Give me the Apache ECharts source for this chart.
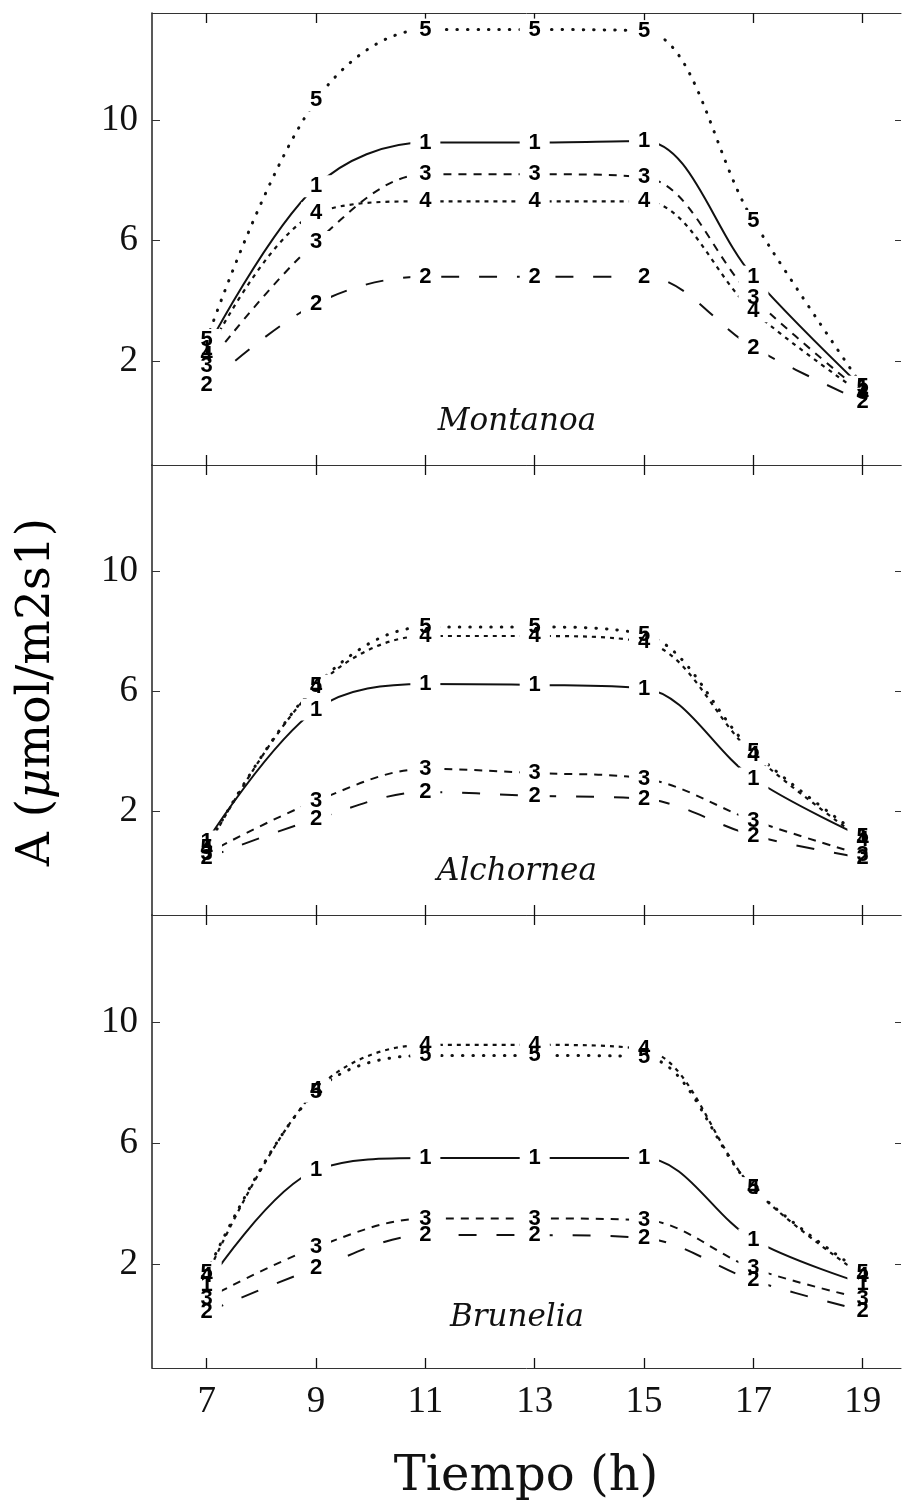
<!DOCTYPE html>
<html>
<head>
<meta charset="utf-8">
<script src="https://cdn.jsdelivr.net/npm/echarts@6/dist/echarts.min.js"></script>
<style>
  html, body { margin: 0; padding: 0; background: #fff; }
  #chart { width: 904px; height: 1507px; }
</style>
</head>
<body>
<div id="chart"></div>
<script>
// Sampling hours and axis ticks
const hours = [7, 9, 11, 13, 15, 17, 19];
const hourTicks = [7, 9, 11, 13, 15, 17, 19];
const rateTicks = [2, 6, 10];
const curveIds = ['1', '2', '3', '4', '5'];
const panelNames = ['Montanoa', 'Alchornea', 'Brunelia'];

// Net assimilation A (µmol/m2s1), Montanoa
const montanoa1 = [2.4, 7.8, 9.25, 9.25, 9.3, 4.8, 1.1];
const montanoa2 = [1.2, 3.9, 4.8, 4.8, 4.8, 2.45, 0.65];
const montanoa3 = [1.85, 5.95, 8.2, 8.2, 8.1, 4.1, 0.95];
const montanoa4 = [2.2, 6.9, 7.3, 7.3, 7.3, 3.65, 0.9];
const montanoa5 = [2.7, 10.65, 13.0, 13.0, 12.95, 6.65, 1.15];

// Alchornea
const alchornea1 = [1.0, 5.4, 6.25, 6.22, 6.1, 3.1, 1.15];
const alchornea2 = [0.45, 1.75, 2.65, 2.52, 2.42, 1.2, 0.45];
const alchornea3 = [0.6, 2.35, 3.42, 3.28, 3.1, 1.7, 0.55];
const alchornea4 = [0.75, 6.15, 7.85, 7.85, 7.65, 3.9, 1.05];
const alchornea5 = [0.8, 6.2, 8.15, 8.15, 7.9, 4.0, 1.15];

// Brunelia
const brunelia1 = [1.3, 5.1, 5.5, 5.5, 5.5, 2.8, 1.35];
const brunelia2 = [0.4, 1.85, 2.95, 2.95, 2.85, 1.45, 0.45];
const brunelia3 = [0.85, 2.55, 3.5, 3.5, 3.45, 1.85, 0.85];
const brunelia4 = [1.6, 7.75, 9.25, 9.25, 9.1, 4.5, 1.6];
const brunelia5 = [1.7, 7.7, 8.9, 8.9, 8.85, 4.5, 1.7];

const panels = [
  [montanoa1, montanoa2, montanoa3, montanoa4, montanoa5],
  [alchornea1, alchornea2, alchornea3, alchornea4, alchornea5],
  [brunelia1, brunelia2, brunelia3, brunelia4, brunelia5]
];

// Stroke of each numbered curve
const curveStyles = [
  { width: 2, type: 'solid', cap: 'butt' },
  { width: 2, type: [18, 20], cap: 'butt' },
  { width: 2, type: [8, 7], cap: 'butt' },
  { width: 2.2, type: [4, 5], cap: 'butt' },
  { width: 3, type: [0.5, 10], cap: 'round' }
];

const gridTops = [13, 465, 915];
const gridHeights = [452, 450, 453];
const nameY = [422, 872, 1318];
const ink = '#111';
const serif = 'Liberation Serif';

const grids = [], xAxes = [], yAxes = [], series = [];

panels.forEach((curves, p) => {
  grids.push({ left: 152, width: 749, top: gridTops[p], height: gridHeights[p] });

  ['bottom', 'top'].forEach(pos => {
    xAxes.push({
      type: 'value', gridIndex: p, position: pos, min: 6, max: 19.7,
      axisLine: { show: true, onZero: false, lineStyle: { color: '#333', width: 1 } },
      axisTick: { show: true, inside: true, length: 10, customValues: hourTicks,
                  lineStyle: { color: ink, width: 1.3 } },
      axisLabel: { show: pos === 'bottom' && p === 2, customValues: hourTicks, margin: 16,
                   fontFamily: serif, fontSize: 37, color: ink },
      splitLine: { show: false }
    });
  });

  yAxes.push({
    type: 'value', gridIndex: p, position: 'left', min: -1.45, max: 13.55,
    axisLine: { show: true, onZero: false, lineStyle: { color: '#222', width: 1.5 } },
    axisTick: { show: true, inside: true, length: 8, customValues: rateTicks,
                lineStyle: { color: '#333', width: 1 } },
    axisLabel: { show: true, customValues: rateTicks, margin: 14,
                 fontFamily: serif, fontSize: 37, color: ink },
    splitLine: { show: false }
  });
  yAxes.push({
    type: 'value', gridIndex: p, position: 'right', min: -1.45, max: 13.55,
    axisLine: { show: false },
    axisTick: { show: true, inside: true, length: 6, customValues: rateTicks,
                lineStyle: { color: '#333', width: 1 } },
    axisLabel: { show: false },
    splitLine: { show: false }
  });

  curves.forEach((vals, k) => {
    series.push({
      type: 'line',
      xAxisIndex: p * 2,
      yAxisIndex: p * 2,
      data: hours.map((h, j) => [h, vals[j]]),
      smooth: 0.35,
      symbol: 'rect',
      symbolSize: [30, 22],
      itemStyle: { color: '#fff', borderWidth: 0 },
      lineStyle: Object.assign({ color: ink }, curveStyles[k]),
      label: {
        show: true, position: 'inside', formatter: curveIds[k],
        fontFamily: 'Liberation Sans', fontWeight: 'bold', fontSize: 22, color: '#000'
      },
      emphasis: { disabled: true },
      silent: true,
      animation: false
    });
  });
});

const graphics = panelNames.map((name, p) => ({
  type: 'text', x: 517, y: nameY[p],
  style: { text: name, font: 'italic 31px "DejaVu Serif"', fill: ink,
           textAlign: 'center', textVerticalAlign: 'middle' }
}));

graphics.push({
  type: 'text', x: 526, y: 1478,
  style: { text: 'Tiempo (h)', font: '48px "DejaVu Serif"', fill: ink,
           textAlign: 'center', textVerticalAlign: 'middle' }
});

graphics.push({
  type: 'text', x: 37, y: 692, rotation: Math.PI / 2,
  style: {
    text: '{n|A (}{m|μ}{n|mol/m2s1)}',
    textAlign: 'center', textVerticalAlign: 'middle',
    rich: {
      n: { fontFamily: 'DejaVu Serif', fontSize: 47, color: ink },
      m: { fontFamily: 'DejaVu Serif', fontStyle: 'italic', fontSize: 47, color: ink }
    }
  }
});

const chart = echarts.init(document.getElementById('chart'), null, { renderer: 'canvas' });
chart.setOption({
  backgroundColor: '#fff',
  animation: false,
  grid: grids,
  xAxis: xAxes,
  yAxis: yAxes,
  series: series,
  graphic: graphics
});
</script>
</body>
</html>
